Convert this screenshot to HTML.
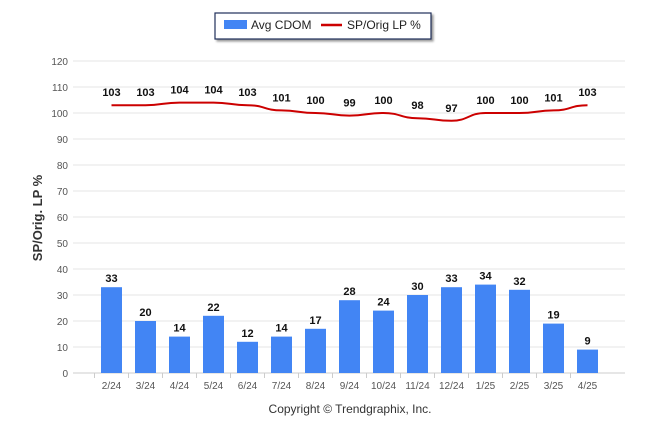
<!DOCTYPE html>
<html><head><meta charset="utf-8"><style>
body{margin:0;background:#fff;font-family:"Liberation Sans",Arial,sans-serif}
svg text{font-family:"Liberation Sans",Arial,sans-serif}
</style></head><body>
<svg id="chart" width="646" height="434" xmlns="http://www.w3.org/2000/svg">
<g>
<rect x="215" y="13" width="216" height="26" fill="#fff" stroke="#1f2f5a" stroke-width="1.2" style="filter:drop-shadow(2px 2px 1px #999)"/>
<rect x="224" y="20" width="23" height="9" fill="#4285f4"/>
<text x="251" y="29" font-size="12" fill="#222">Avg CDOM</text>
<line x1="321" y1="25" x2="342" y2="25" stroke="#c00" stroke-width="2.5"/>
<text x="347" y="29" font-size="12" fill="#222">SP/Orig LP %</text>
</g>
<g id="grid"></g>
<g id="bars"></g>
<g id="line"></g>
<text transform="translate(42,218) rotate(-90)" text-anchor="middle" font-size="13" font-weight="bold" fill="#333">SP/Orig. LP %</text>
<text x="350" y="413" text-anchor="middle" font-size="12" fill="#333">Copyright © Trendgraphix, Inc.</text>
</svg>
<script>
const categories=["2/24","3/24","4/24","5/24","6/24","7/24","8/24","9/24","10/24","11/24","12/24","1/25","2/25","3/25","4/25"];
const cdom=[33,20,14,22,12,14,17,28,24,30,33,34,32,19,9];
const lp=[103,103,104,104,103,101,100,99,100,98,97,100,100,101,103];
const yTicks=[0,10,20,30,40,50,60,70,80,90,100,110,120];
const NS="http://www.w3.org/2000/svg";
const y=v=>373-v*2.6;
const x=i=>111.5+i*34;
function mk(t,a,p){const e=document.createElementNS(NS,t);for(const k in a)e.setAttribute(k,a[k]);p.appendChild(e);return e;}
const grid=document.getElementById('grid'),bars=document.getElementById('bars'),line=document.getElementById('line');
yTicks.forEach(v=>{
 const l=mk('line',{x1:73,x2:625,y1:y(v),y2:y(v),stroke:v===0?'#ccc':'#e6e6e6','stroke-width':1},grid);
 
 
 const t=mk('text',{x:68,y:y(v)+4,'text-anchor':'end','font-size':10,fill:'#555'},grid);
 t.textContent=v;
 
 
});
categories.forEach((c,i)=>{
 const t=mk('text',{x:x(i),y:389,'text-anchor':'middle','font-size':10,fill:'#555'},grid);
 t.textContent=c;
 
 
 const tk=mk('line',{x1:x(i)-17,x2:x(i)-17,y1:373,y2:378,stroke:'#ccc'},grid);
 
 
});
cdom.forEach((v,i)=>{
 const r=mk('rect',{x:x(i)-10.5,y:y(v),width:21,height:y(0)-y(v),fill:'#4285f4'},bars);
 
 
 const t=mk('text',{x:x(i),y:y(v)-5,'text-anchor':'middle','font-size':11,'font-weight':'bold',fill:'#111'},bars);
 t.textContent=v;
 
 
});
let d='';
lp.forEach((v,i)=>{
 if(i===0){d+='M'+x(i)+','+y(v);}
 else{const cx=(x(i-1)+x(i))/2;d+=' C'+cx+','+y(lp[i-1])+' '+cx+','+y(v)+' '+x(i)+','+y(v);}
});
const p=mk('path',{d:d,fill:'none',stroke:'#c00','stroke-width':2},line);


lp.forEach((v,i)=>{
 const t=mk('text',{x:x(i),y:y(v)-9,'text-anchor':'middle','font-size':11,'font-weight':'bold',fill:'#111'},line);
 t.textContent=v;
 
 
});
</script>
</body></html>
